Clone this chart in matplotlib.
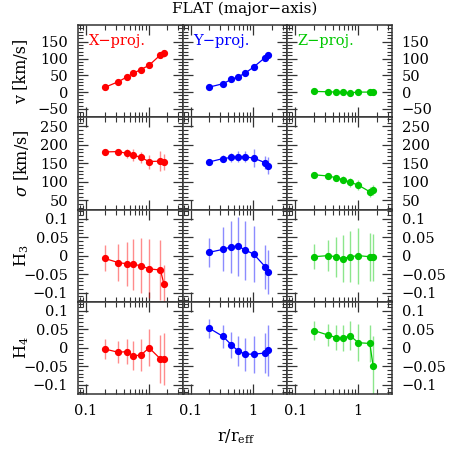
import matplotlib
matplotlib.use("Agg")
import matplotlib.pyplot as plt
from matplotlib.ticker import MultipleLocator, LogLocator, NullFormatter, FixedLocator

plt.rcParams['font.family'] = ['DejaVu Serif']
plt.rcParams['mathtext.fontset'] = 'dejavuserif'

# radii (r/r_eff)
r = [0.2, 0.33, 0.45, 0.57, 0.75, 1.02, 1.55, 1.75]

proj_names = ['X\u2212proj.', 'Y\u2212proj.', 'Z\u2212proj.']
proj_colors = ['#ff0000', '#0000ff', '#00c800']

# velocity
v_x = [14, 31, 45, 56, 67, 80, 111, 116]
v_y = [15, 25, 38, 45, 57, 75, 103, 112]
v_z = [2, 1, 0, -1, -2, 0, 0, 0]
v_ex = [4, 4, 4, 5, 5, 6, 10, 10]
v_ey = [3, 3, 4, 4, 5, 6, 9, 9]
v_ez = [2, 2, 2, 2, 2, 3, 3, 3]

# dispersion
s_x = [181, 182, 177, 173, 166, 155, 156, 153]
s_y = [154, 163, 166, 168, 168, 164, 152, 144]
s_z = [119, 116, 111, 106, 99, 91, 73, 77]
s_ex = [5, 8, 13, 16, 16, 19, 28, 22]
s_ey = [6, 9, 12, 15, 15, 25, 18, 22]
s_ez = [5, 6, 7, 10, 12, 14, 14, 14]

# H3
h3_x = [-0.0075, -0.019, -0.022, -0.024, -0.027, -0.036, -0.039, -0.076]
h3_y = [0.009, 0.017, 0.024, 0.026, 0.015, 0.004, -0.030, -0.045]
h3_z = [-0.003, 0.0, -0.003, -0.008, -0.003, 0.0, -0.003, -0.005]
h3_ex = [0.035, 0.05, 0.06, 0.068, 0.075, 0.08, 0.08, 0.05]
h3_ey = [0.04, 0.06, 0.07, 0.08, 0.08, 0.075, 0.06, 0.06]
h3_ez = [0.034, 0.041, 0.054, 0.063, 0.069, 0.076, 0.065, 0.063]

# H4
h4_x = [-0.003, -0.012, -0.010, -0.021, -0.020, 0.0, -0.030, -0.031]
h4_y = [0.053, 0.031, 0.008, -0.008, -0.017, -0.017, -0.014, -0.007]
h4_z = [0.047, 0.035, 0.028, 0.026, 0.033, 0.014, 0.012, -0.049]
h4_ex = [0.026, 0.03, 0.034, 0.04, 0.043, 0.05, 0.065, 0.07]
h4_ey = [0.025, 0.03, 0.035, 0.04, 0.045, 0.05, 0.055, 0.07]
h4_ez = [0.025, 0.03, 0.035, 0.035, 0.04, 0.05, 0.05, 0.08]

rows = [
    ([v_x, v_y, v_z], [v_ex, v_ey, v_ez], (-75, 200), 10, [-50, 0, 50, 100, 150], ['\u221250', '0', '50', '100', '150'], 'v [km/s]'),
    ([s_x, s_y, s_z], [s_ex, s_ey, s_ez], (25, 275), 10, [50, 100, 150, 200, 250], ['50', '100', '150', '200', '250'], r'$\sigma$ [km/s]'),
    ([h3_x, h3_y, h3_z], [h3_ex, h3_ey, h3_ez], (-0.125, 0.125), 0.01, [-0.1, -0.05, 0, 0.05, 0.1], ['\u22120.1', '\u22120.05', '0', '0.05', '0.1'], r'H$_3$'),
    ([h4_x, h4_y, h4_z], [h4_ex, h4_ey, h4_ez], (-0.125, 0.125), 0.01, [-0.1, -0.05, 0, 0.05, 0.1], ['\u22120.1', '\u22120.05', '0', '0.05', '0.1'], r'H$_4$'),
]

fig, axes = plt.subplots(4, 3, figsize=(4.58, 4.58), dpi=100)
fig.subplots_adjust(left=78/458, right=392/458, top=1-25/458, bottom=1-394/458, wspace=0, hspace=0)

tick_col = '#333333'
for i, (vals, errs, ylim, mnr, yt, ytl, ylab) in enumerate(rows):
    for j in range(3):
        ax = axes[i, j]
        c = proj_colors[j]
        ax.errorbar(r, vals[j], yerr=errs[j], fmt='none', ecolor=c, alpha=0.45, elinewidth=1.0, capsize=0)
        ax.plot(r, vals[j], '-o', color=c, lw=0.9, ms=4.2, mec=c)
        ax.set_xscale('log')
        ax.set_xlim(0.075, 3.5)
        ax.set_ylim(*ylim)
        ax.xaxis.set_major_locator(FixedLocator([0.1, 1]))
        ax.xaxis.set_minor_locator(LogLocator(base=10, subs=range(2, 10)))
        ax.xaxis.set_minor_formatter(NullFormatter())
        ax.set_yticks(yt)
        ax.yaxis.set_minor_locator(MultipleLocator(mnr))
        ax.tick_params(which='both', direction='in', top=True, right=True, color=tick_col, labelsize=10.5, pad=7)
        ax.tick_params(which='major', length=7, width=0.9)
        ax.tick_params(which='minor', length=3.5, width=0.8)
        for s in ax.spines.values():
            s.set_color(tick_col)
            s.set_linewidth(1.1)
        if i == 3:
            ax.set_xticklabels(['0.1', '1'])
        else:
            ax.set_xticklabels([])
        if j == 0:
            ax.set_yticklabels(ytl)
        elif j == 2:
            ax.yaxis.tick_right()
            ax.yaxis.set_ticks_position('both')
            ax.tick_params(labelleft=False, labelright=True)
            ax.set_yticklabels(ytl)
        else:
            ax.set_yticklabels([])
        if i == 0:
            ax.text(0.1, 0.9, proj_names[j], transform=ax.transAxes, color=c, fontsize=10.5, va='top', ha='left')
    yc = (axes[i, 0].get_position().y0 + axes[i, 0].get_position().y1) / 2
    fig.text(0.048, yc, ylab, rotation=90, ha='center', va='center', fontsize=11.5)

fig.text(0.535, 1-9/458, 'FLAT (major\u2212axis)', ha='center', va='center', fontsize=11)
fig.text(0.515, 1-437/458, r'r/r$_{\rm eff}$', ha='center', va='center', fontsize=11.5)

fig.savefig('out.png', dpi=100)
